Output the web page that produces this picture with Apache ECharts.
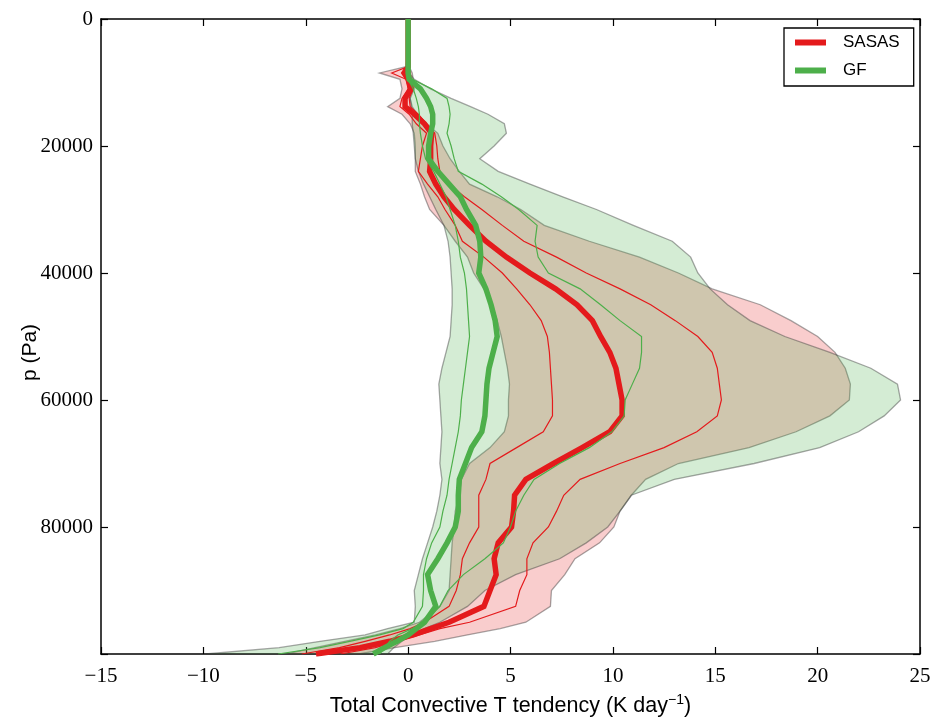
<!DOCTYPE html>
<html>
<head>
<meta charset="utf-8">
<script src="https://cdn.jsdelivr.net/npm/echarts@6/dist/echarts.min.js"></script>
<style>
  html, body { margin: 0; padding: 0; background: #fff; }
  #chart { width: 935px; height: 718px; }
</style>
</head>
<body>
<div id="chart"></div>
<script>
// Pressure levels (Pa) shared by every profile
const levels = [0, 5000, 7500, 8500, 9500, 11000, 12500, 13800, 15000, 16500,
  18000, 20000, 22000, 24000, 26000, 28000, 30000, 32500, 35000, 37500,
  40000, 42500, 45000, 47500, 50000, 52500, 55000, 57500, 60000, 62500,
  65000, 67500, 70000, 72500, 75000, 77500, 80000, 82500, 85000, 87500,
  90000, 92500, 95000, 96000, 97000, 98000, 99000, 100000];

// SASAS: mean, inner percentiles and outer envelope (K/day)
const sasasMean = [0, 0, 0, -0.2, 0, 0.15, -0.15, -0.15, 0.3, 0.8,
  1.15, 1.1, 1.1, 1.05, 1.35, 1.75, 2.25, 3.0, 3.8, 4.8,
  5.95, 7.2, 8.25, 9.0, 9.4, 9.85, 10.15, 10.3, 10.45, 10.45,
  9.85, 8.5, 7.1, 5.75, 5.2, 5.15, 5.05, 4.4, 4.2, 4.3,
  4.0, 3.7, 2.0, 1.1, 0.25, -0.9, -2.35, -4.5];
const sasasP25 = [0, 0, 0, -0.8, -0.1, 0, -0.3, -0.4, 0.05, 0.4,
  0.9, 0.7, 0.6, 0.5, 0.95, 1.45, 1.8, 2.3, 2.65, 3.7,
  4.6, 5.3, 5.95, 6.5, 6.8, 6.9, 6.95, 7.0, 7.05, 7.05,
  6.6, 5.3, 4.0, 3.8, 3.45, 3.45, 3.45, 3.0, 2.65, 2.55,
  2.35, 2.0, 0.8, 0.1, -0.9, -2.1, -3.35, -5.2];
const sasasP75 = [0, 0, 0.05, 0.1, 0.15, 0.25, 0.05, 0.1, 0.5, 0.9,
  1.3, 1.4, 1.45, 1.55, 2.0, 2.75, 3.6, 4.6, 5.65, 7.25,
  8.7, 10.35, 11.85, 13.05, 14.15, 14.85, 15.1, 15.2, 15.3, 15.1,
  14.1, 12.5, 10.35, 8.4, 7.6, 7.25, 6.85, 6.1, 5.8, 5.8,
  5.45, 5.25, 3.0, 1.55, 0.55, -0.55, -1.6, -3.3];
const sasasLo = [0, 0, -0.1, -1.4, -0.4, -0.3, -0.4, -1.0, -0.3, 0.1,
  0.3, 0.35, 0.35, 0.35, 0.6, 0.8, 1.05, 1.75, 2.3, 2.9,
  3.2, 3.7, 4.1, 4.35, 4.55, 4.7, 4.85, 4.95, 4.9, 4.9,
  4.7, 4.0, 3.0, 2.6, 2.5, 2.3, 2.25, 2.15, 2.1, 2.05,
  2.0, 1.55, 0.55, -0.4, -1.6, -3.1, -4.55, -6.0];
const sasasHi = [0, 0, 0.05, 0.2, 0.25, 0.3, 0.1, 0.2, 0.45, 0.9,
  1.45, 1.7, 2.05, 2.5, 3.0, 4.35, 5.5, 6.65, 8.85, 11.3,
  13.2, 14.85, 17.2, 18.7, 20.0, 20.85, 21.35, 21.6, 21.55, 20.6,
  18.95, 16.65, 13.2, 11.6, 10.9, 10.35, 10.05, 9.35, 8.15, 7.65,
  7.0, 6.95, 5.75, 4.5, 2.9, 1.3, -0.65, -2.4];

// GF: mean, inner percentiles and outer envelope (K/day)
const gfMean = [0, 0, 0, 0, 0.05, 0.6, 0.9, 1.1, 1.2, 1.2,
  1.1, 1.0, 1.0, 1.45, 2.0, 2.55, 2.85, 3.3, 3.5, 3.55,
  3.45, 3.8, 4.05, 4.25, 4.35, 4.15, 3.95, 3.85, 3.8, 3.75,
  3.6, 3.1, 2.8, 2.5, 2.45, 2.45, 2.3, 1.9, 1.45, 0.95,
  1.1, 1.35, 0.8, 0.4, 0, -0.55, -1.15, -1.7];
const gfP25 = [0, 0, 0, 0, 0, 0.25, 0.4, 0.5, 0.55, 0.55,
  0.6, 0.7, 0.85, 1.25, 1.55, 1.85, 2.05, 2.3, 2.45, 2.55,
  2.75, 2.85, 2.9, 2.95, 3.0, 2.9, 2.8, 2.7, 2.6, 2.55,
  2.45, 2.3, 2.15, 2.0, 1.9, 1.7, 1.55, 1.15, 0.9, 0.75,
  0.75, 0.7, 0.25, -0.25, -1.4, -2.85, -4.3, -6.35];
const gfP75 = [0, 0, 0, 0, 0.2, 1.15, 1.9, 2.0, 2.05, 2.0,
  1.9, 2.1, 2.25, 2.45, 3.6, 4.55, 5.4, 6.3, 6.2, 6.35,
  6.85, 8.4, 9.4, 10.35, 11.4, 11.4, 11.3, 10.95, 10.6, 10.55,
  9.95, 8.85, 7.4, 6.15, 5.65, 5.25, 5.0, 4.65, 3.75, 2.7,
  1.95, 1.55, 0.8, 0.2, -0.5, -0.9, -1.15, -1.4];
const gfLo = [0, 0, 0, 0, -0.05, 0, 0.1, 0.15, 0.2, 0.2,
  0.25, 0.3, 0.35, 0.5, 0.75, 1.05, 1.35, 1.75, 1.95, 2.05,
  2.1, 2.15, 2.15, 2.1, 2.05, 1.85, 1.65, 1.5, 1.55, 1.6,
  1.65, 1.6, 1.55, 1.65, 1.55, 1.4, 1.2, 0.95, 0.7, 0.5,
  0.3, 0.35, 0.3, -1.0, -2.1, -4.3, -6.3, -9.9];
const gfHi = [0, 0, 0, 0.05, 0.3, 1.1, 2.1, 3.05, 3.9, 4.7,
  4.8, 4.2, 3.5, 4.4, 5.95, 7.55, 9.2, 11.0, 12.9, 13.8,
  14.15, 14.75, 15.6, 16.7, 18.4, 20.6, 22.6, 23.9, 24.05, 23.25,
  22.0, 20.1, 16.9, 13.0, 10.9, 10.35, 9.75, 8.7, 7.4, 5.25,
  3.75, 2.9, 1.55, 0.8, 0.2, -0.3, -0.7, -1.0];

// Axis ticks
const xTicks = [-15, -10, -5, 0, 5, 10, 15, 20, 25];
const yTicks = [0, 20000, 40000, 60000, 80000, 100000];

const RED = '#e41a1c';
const GREEN = '#4daf4a';
const SERIF = '"Liberation Serif", "DejaVu Serif", serif';
const SANS = '"Liberation Sans", Arial, sans-serif';

function profile(vals) {
  return levels.map((p, i) => [vals[i], p]);
}

function lineSeries(name, vals, color, width) {
  return {
    type: 'line', name: name, data: profile(vals),
    xAxisIndex: 0, yAxisIndex: 0,
    showSymbol: false, symbol: 'none', silent: true,
    lineStyle: { color: color, width: width, join: 'miter' },
    itemStyle: { color: color },
    z: 3
  };
}

// Shaded envelope between lo and hi profiles, drawn as a polygon on the axes
function bandSeries(name, lo, hi, fill) {
  return {
    type: 'custom', name: name, silent: true,
    xAxisIndex: 0, yAxisIndex: 0,
    data: [[0, 0]],
    z: 2,
    renderItem: function (params, api) {
      const pts = [];
      for (let i = 0; i < levels.length; i++) pts.push(api.coord([hi[i], levels[i]]));
      for (let i = levels.length - 1; i >= 0; i--) pts.push(api.coord([lo[i], levels[i]]));
      return {
        type: 'polygon',
        shape: { points: pts },
        style: { fill: fill, stroke: 'rgba(60,60,60,0.45)', lineWidth: 1.3 }
      };
    }
  };
}

const axisLineStyle = { color: '#000', width: 1.5 };
const tickStyle = { show: true, inside: true, length: 7, lineStyle: { color: '#000', width: 1.2 } };

const chart = echarts.init(document.getElementById('chart'), null, { renderer: 'canvas' });
chart.setOption({
  animation: false,
  backgroundColor: '#fff',
  grid: { left: 101, top: 19, right: 15, bottom: 64, outerBoundsMode: 'none' },
  legend: {
    data: ['SASAS', 'GF'],
    orient: 'vertical',
    left: 784, top: 28,
    icon: 'rect', itemWidth: 31, itemHeight: 6, itemGap: 11,
    padding: [6, 14, 7, 11],
    borderColor: '#000', borderWidth: 1.3, borderRadius: 0,
    backgroundColor: '#fff',
    textStyle: { fontFamily: SANS, fontSize: 17, color: '#000', padding: [0, 0, 0, 12] }
  },
  xAxis: [{
    type: 'value', position: 'bottom',
    min: xTicks[0], max: xTicks[xTicks.length - 1], interval: 5,
    axisLine: { show: true, onZero: false, lineStyle: axisLineStyle },
    axisTick: tickStyle,
    splitLine: { show: false },
    axisLabel: {
      margin: 12, color: '#000', fontFamily: SERIF, fontSize: 21,
      formatter: v => String(v).replace('-', '\u2212')
    },
    name: 'Total Convective T tendency (K day{sup|\u22121})',
    nameLocation: 'middle', nameGap: 39,
    nameTextStyle: {
      fontFamily: SANS, fontSize: 21.5, color: '#000',
      rich: { sup: { fontFamily: SANS, fontSize: 14, color: '#000', padding: [0, 0, 12, 0] } }
    }
  }, {
    type: 'value', position: 'top',
    min: xTicks[0], max: xTicks[xTicks.length - 1], interval: 5,
    axisLine: { show: true, onZero: false, lineStyle: axisLineStyle },
    axisTick: tickStyle,
    axisLabel: { show: false },
    splitLine: { show: false }
  }],
  yAxis: [{
    type: 'value', inverse: true, position: 'left',
    min: yTicks[0], max: yTicks[yTicks.length - 1], interval: 20000,
    axisLine: { show: true, onZero: false, lineStyle: axisLineStyle },
    axisTick: tickStyle,
    splitLine: { show: false },
    axisLabel: {
      margin: 8, color: '#000', fontFamily: SERIF, fontSize: 21,
      formatter: v => (v === 100000 ? '' : String(v))
    },
    name: 'p (Pa)', nameLocation: 'middle', nameGap: 60, nameMoveOverlap: false,
    nameTextStyle: { fontFamily: SANS, fontSize: 21, color: '#000', padding: [0, 32, 0, 0] }
  }, {
    type: 'value', inverse: true, position: 'right',
    min: yTicks[0], max: yTicks[yTicks.length - 1], interval: 20000,
    axisLine: { show: true, onZero: false, lineStyle: axisLineStyle },
    axisTick: tickStyle,
    axisLabel: { show: false },
    splitLine: { show: false }
  }],
  series: [
    bandSeries('SASAS range', sasasLo, sasasHi, 'rgba(228,26,28,0.22)'),
    bandSeries('GF range', gfLo, gfHi, 'rgba(77,175,74,0.24)'),
    lineSeries('SASAS p25', sasasP25, RED, 1.2),
    lineSeries('SASAS p75', sasasP75, RED, 1.2),
    lineSeries('SASAS', sasasMean, RED, 5.5),
    lineSeries('GF p25', gfP25, GREEN, 1.2),
    lineSeries('GF p75', gfP75, GREEN, 1.2),
    lineSeries('GF', gfMean, GREEN, 5.5)
  ]
});
</script>
</body>
</html>
